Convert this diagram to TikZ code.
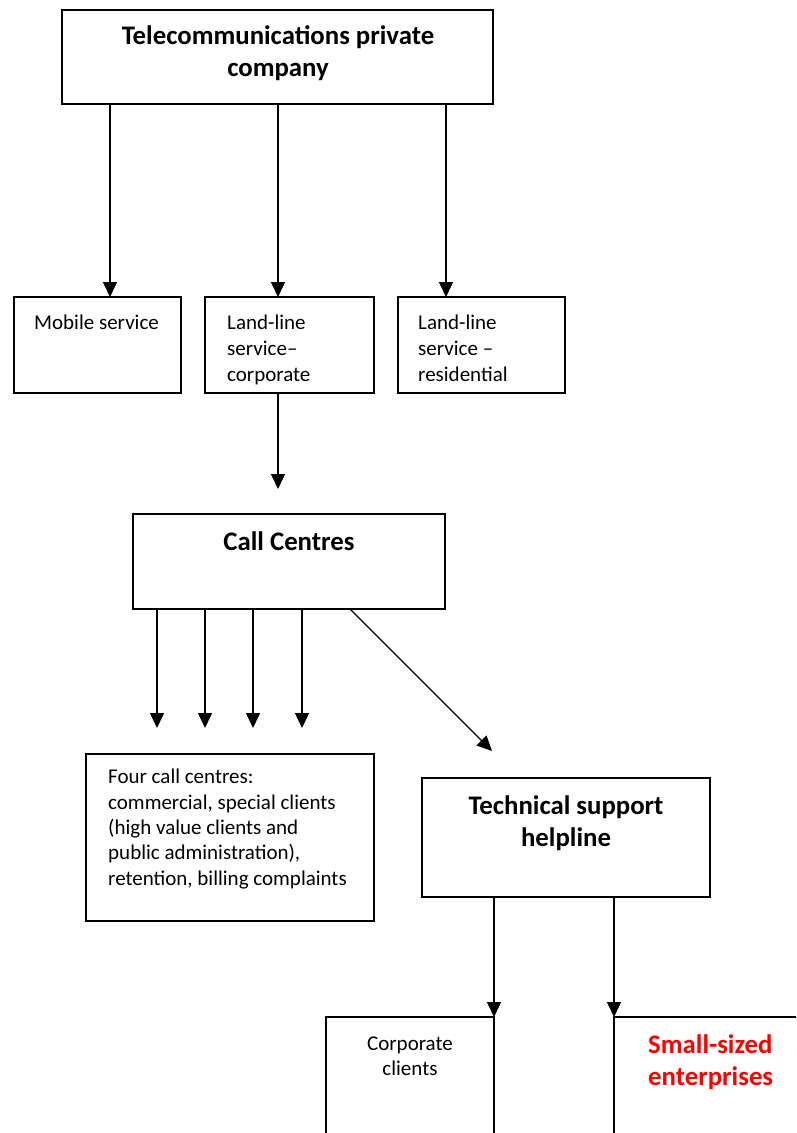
\documentclass[tikz,border=0pt]{standalone}
\usepackage{fontspec}
\setmainfont{Carlito}
\usetikzlibrary{arrows.meta}
\definecolor{redtxt}{RGB}{255,0,0}
\tikzset{
  box/.style={draw=black, line width=1.6pt, fill=white, anchor=north west, inner sep=0pt, outer sep=0pt},
  arr/.style={line width=1.4pt, -{Triangle[width=14pt,length=15pt]}},
  reg/.style={font=\fontsize{21}{26}\selectfont, inner sep=0pt, align=left},
  bld/.style={font=\fontsize{26.8}{32}\selectfont\bfseries, inner sep=0pt, align=center}
}
\begin{document}
\begin{tikzpicture}[x=1pt,y=-1pt]
\useasboundingbox (0,0) rectangle (796,1133);
\clip (0,0) rectangle (796,1133);
\fill[white] (0,0) rectangle (796,1133);
% boxes
\node[box, minimum width=431pt, minimum height=94pt] (top) at (62,10) {};
\node[box, minimum width=167pt, minimum height=96pt] (mob) at (14,297) {};
\node[box, minimum width=169pt, minimum height=96pt] (llc) at (205,297) {};
\node[box, minimum width=167pt, minimum height=96pt] (llr) at (398,297) {};
\node[box, minimum width=312pt, minimum height=95pt] (call) at (133,514) {};
\node[box, minimum width=288pt, minimum height=167pt] (four) at (86,754) {};
\node[box, minimum width=288pt, minimum height=119pt] (tech) at (422,778) {};
\node[box, minimum width=168pt, minimum height=200pt] (corp) at (326,1017) {};
\node[box, minimum width=300pt, minimum height=200pt] (small) at (614,1017) {};
% texts (anchor base = baseline of the last line)
\node[bld, anchor=base] (ttop) at (278,76) {Telecommunications private\\company};
\node[reg, anchor=base west] (tmob) at (34,329) {Mobile service};
\node[reg, anchor=base west] (tllc) at (227,381) {Land-line\\service–\\corporate};
\node[reg, anchor=base west] (tllr) at (418,381) {Land-line\\service –\\residential};
\node[bld, anchor=base] (tcall) at (289,550) {Call Centres};
\node[reg, anchor=base west, font=\fontsize{21}{25.3}\selectfont] (tfour) at (108,885) {Four call centres:\\commercial, special clients\\(high value clients and\\public administration),\\retention, billing complaints};
\node[bld, anchor=base] (ttech) at (566,846) {Technical support\\helpline};
\node[reg, anchor=base, align=center, font=\fontsize{21}{25}\selectfont] (tcorp) at (410,1075) {Corporate\\clients};
\node[bld, anchor=base west, align=left, text=redtxt] (tsmall) at (648,1085) {Small-sized\\enterprises};
% free ends
\coordinate (e0) at (278,489);
\coordinate (c1) at (157,728);
\coordinate (c2) at (205,728);
\coordinate (c3) at (253,728);
\coordinate (c4) at (302,728);
\coordinate (d1) at (492,751);
% connectors
\draw[arr] ([xshift=48pt]top.south west) -- ([xshift=96pt]mob.north west);
\draw[arr] ([xshift=216pt]top.south west) -- ([xshift=73pt]llc.north west);
\draw[arr] ([xshift=384pt]top.south west) -- ([xshift=48pt]llr.north west);
\draw[arr] ([xshift=73pt]llc.south west) -- (e0);
\draw[arr] ([xshift=24pt]call.south west) -- (c1);
\draw[arr] ([xshift=72pt]call.south west) -- (c2);
\draw[arr] ([xshift=120pt]call.south west) -- (c3);
\draw[arr] ([xshift=169pt]call.south west) -- (c4);
\draw[arr] ([xshift=217pt]call.south west) -- (d1);
\draw[arr] ([xshift=72pt]tech.south west) -- (corp.north east);
\draw[arr] ([xshift=192pt]tech.south west) -- (small.north west);
\end{tikzpicture}
\end{document}
